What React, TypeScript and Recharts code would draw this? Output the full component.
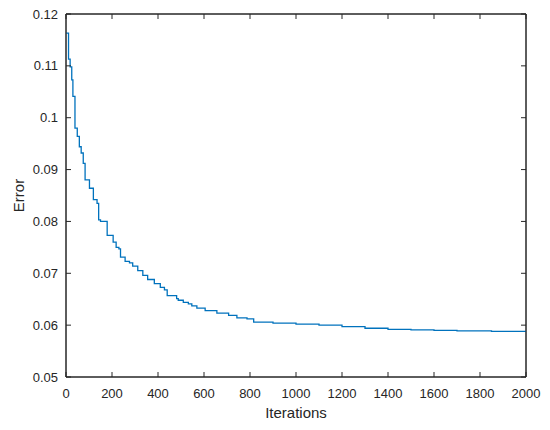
import React from 'react';
import { LineChart, Line, XAxis, YAxis, ReferenceArea } from 'recharts';

// values (step curve)
const iterations = [
  0, 11, 18, 25, 30, 39, 49, 58, 66, 75, 83, 102, 119, 135, 142, 150, 179, 205, 218, 230,
  237, 257, 276, 290, 312, 334, 355, 384, 410, 428, 440, 481, 488, 510, 532, 547, 569, 605,
  656, 707, 743, 787, 816, 900, 1000, 1100, 1200, 1300, 1400, 1500, 1600, 1700, 1850, 2000,
];
const errors = [
  0.1163, 0.1113, 0.1098, 0.1073, 0.1041, 0.098, 0.0964, 0.0944, 0.0932, 0.0912, 0.088, 0.0864,
  0.0842, 0.0835, 0.0803, 0.08, 0.0773, 0.076, 0.075, 0.0747, 0.0731, 0.0723, 0.072, 0.0714,
  0.0705, 0.0696, 0.0688, 0.068, 0.0673, 0.0668, 0.0657, 0.0651, 0.0648, 0.0644, 0.0641, 0.0637,
  0.0633, 0.0628, 0.0623, 0.0619, 0.0614, 0.0612, 0.0606, 0.0604, 0.0602, 0.06, 0.0597, 0.0594,
  0.0592, 0.0591, 0.059, 0.0589, 0.0588, 0.0588,
];
const xTicks = [0, 200, 400, 600, 800, 1000, 1200, 1400, 1600, 1800, 2000];
const yTicks = [0.05, 0.06, 0.07, 0.08, 0.09, 0.1, 0.11, 0.12];

const data = iterations.map((iter, i) => ({ iter, err: errors[i] }));

const ink = '#262626';
const font = '"Liberation Sans", Arial, sans-serif';
const TICK = 5;

// tick label plus an inward tick mark; axis position is recovered from the label position
const bottomTick = (p: any) => {
  const x = Number(p.x), y = Number(p.y);
  return (
    <g key={`b${p.index}`}>
      <line x1={x} x2={x} y1={y - 15} y2={y - 15 - TICK} stroke={ink} strokeWidth={1} />
      <text x={x} y={y + 5.5} textAnchor="middle" fontSize={13} fill={ink} fontFamily={font}>{p.payload.value}</text>
    </g>
  );
};
const leftTick = (p: any) => {
  const x = Number(p.x), y = Number(p.y);
  return (
    <g key={`l${p.index}`}>
      <line x1={x + 8} x2={x + 8 + TICK} y1={y} y2={y} stroke={ink} strokeWidth={1} />
      <text x={x} y={y + 4.5} textAnchor="end" fontSize={13} fill={ink} fontFamily={font}>{String(p.payload.value)}</text>
    </g>
  );
};
const topTick = (p: any) => (
  <line key={`t${p.index}`} x1={Number(p.x)} x2={Number(p.x)} y1={Number(p.y)} y2={Number(p.y) + TICK} stroke={ink} strokeWidth={1} />
);
const rightTick = (p: any) => (
  <line key={`r${p.index}`} x1={Number(p.x)} x2={Number(p.x) - TICK} y1={Number(p.y)} y2={Number(p.y)} stroke={ink} strokeWidth={1} />
);

export default function App() {
  return (
    <div style={{ position: 'absolute', left: 0, top: 0, background: '#fff' }}>
      <LineChart width={550} height={430} data={data} margin={{ top: 13, right: 23, left: 0, bottom: 0 }}>
        <XAxis dataKey="iter" type="number" domain={[0, 2000]} ticks={xTicks} height={53}
          tickSize={0} tickMargin={15} stroke={ink} tick={bottomTick} interval={0}
          label={{ value: 'Iterations', position: 'insideBottom', offset: 12, fill: ink, fontSize: 15, fontFamily: font }} />
        <XAxis xAxisId="top" orientation="top" dataKey="iter" type="number" domain={[0, 2000]} ticks={xTicks}
          height={1} tickSize={0} tickMargin={0} stroke={ink} tick={topTick} interval={0} />
        <YAxis type="number" domain={[0.05, 0.12]} ticks={yTicks} width={66} tickSize={0} tickMargin={8}
          stroke={ink} tick={leftTick} interval={0}
          label={{ value: 'Error', angle: -90, position: 'insideLeft', offset: 19, fill: ink, fontSize: 15, fontFamily: font, style: { textAnchor: 'middle' } }} />
        <YAxis yAxisId="right" orientation="right" type="number" domain={[0.05, 0.12]} ticks={yTicks}
          width={1} tickSize={0} tickMargin={0} stroke={ink} tick={rightTick} interval={0} />
        <ReferenceArea x1={0} x2={2000} y1={0.05} y2={0.12} fill="none" stroke={ink} strokeWidth={1} strokeOpacity={1} fillOpacity={0} />
        <Line type="stepAfter" dataKey="err" stroke="#0072BD" strokeWidth={1.3} dot={false} isAnimationActive={false} />
        <Line xAxisId="top" yAxisId="right" dataKey="err" stroke="none" dot={false} isAnimationActive={false} legendType="none" />
      </LineChart>
    </div>
  );
}
